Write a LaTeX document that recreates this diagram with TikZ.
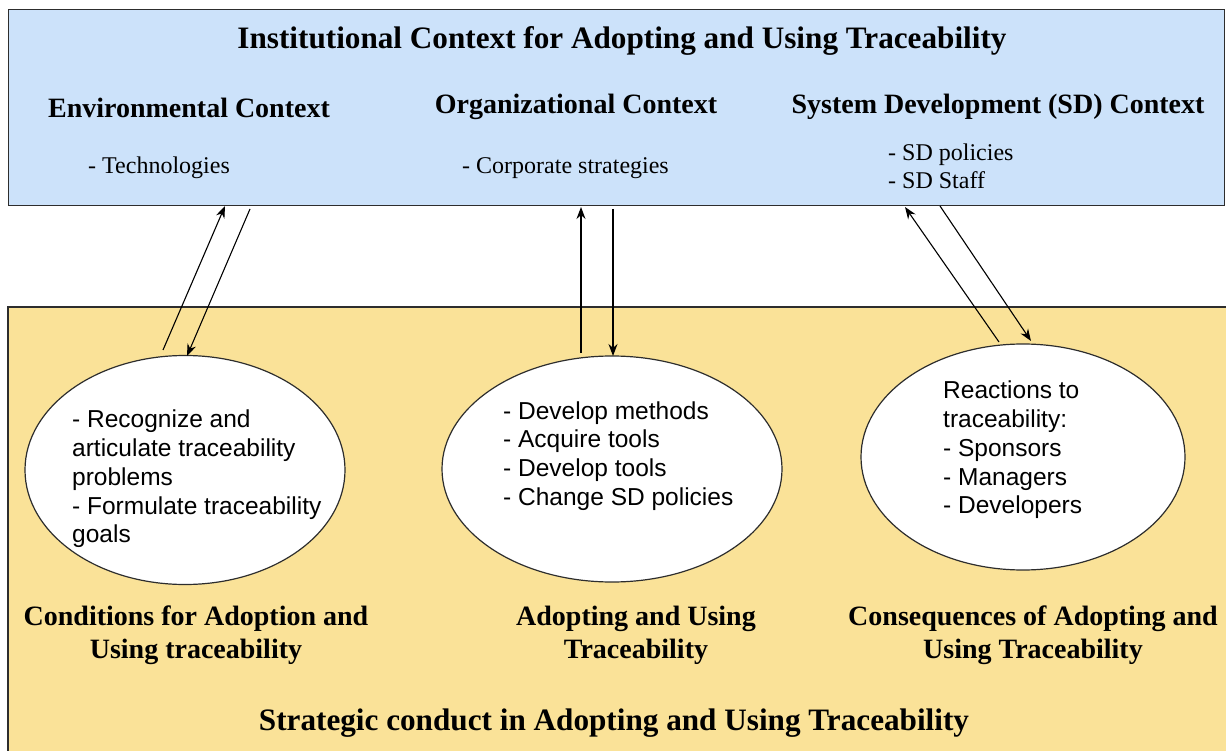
\documentclass[tikz,border=0pt]{standalone}
\usepackage{fontspec}
\setmainfont{Liberation Serif}
\setsansfont{Liberation Sans}
\usetikzlibrary{arrows.meta,shapes.geometric}
\definecolor{ctxblue}{RGB}{204,226,250}
\definecolor{conductyellow}{RGB}{250,226,152}
\definecolor{edge}{RGB}{45,45,45}
\tikzset{
  heading/.style={font=\bfseries\fontsize{28}{33}\selectfont, inner sep=0pt, align=center},
  bigheading/.style={font=\bfseries\fontsize{31.2}{36}\selectfont, inner sep=0pt, align=center},
  item/.style={font=\fontsize{24}{28}\selectfont, inner sep=0pt, align=left},
  bubble/.style={ellipse, draw=edge, line width=1.2pt, fill=white, inner sep=0pt},
  bubbletext/.style={font=\sffamily\fontsize{24.5}{28.8}\selectfont, inner sep=0pt, align=left, anchor=west},
  flow/.style={-{Stealth[length=12pt,width=9pt]}, line width=1.1pt, draw=black}
}
\begin{document}
\begin{tikzpicture}[x=1pt,y=-1pt]
\useasboundingbox (0,0) rectangle (1226,751);

% institutional context (top band)
\node[draw=edge, line width=1.4pt, fill=ctxblue, rectangle, minimum width=1216pt, minimum height=196pt, anchor=north west, inner sep=0pt] (inst) at (8,9) {};

% strategic conduct (bottom band, open to the right and below)
\fill[conductyellow] (8,307) rectangle (1226,751);
\draw[edge, line width=1.4pt] (8,751) -- (8,307) -- (1226,307);

% headings of the top band
\node[bigheading] (title) at (622,41) {Institutional Context for Adopting and Using Traceability};
\node[heading] (env) at (189,108) {Environmental Context};
\node[heading] (org) at (576,107) {Organizational Context};
\node[heading] (sdc) at (998,107) {System Development (SD) Context};
\node[item, anchor=west] (tech) at (88,168) {- Technologies};
\node[item, anchor=west] (corp) at (462,168) {- Corporate strategies};
\node[item, anchor=west] (sd) at (888,166) {- SD policies\\- SD Staff};

% the three ellipses
\node[bubble, minimum width=320pt, minimum height=229pt] (cond) at (185,470) {};
\node[bubble, minimum width=340pt, minimum height=226pt] (adopt) at (612,469) {};
\node[bubble, minimum width=324pt, minimum height=226pt] (cons) at (1023,457) {};

\node[bubbletext] (condtxt) at (72,479) {- Recognize and\\articulate traceability\\problems\\- Formulate traceability\\goals};
\node[bubbletext] (adopttxt) at (503,456) {- Develop methods\\- Acquire tools\\- Develop tools\\- Change SD policies};
\node[bubbletext] (constxt) at (943,450) {Reactions to\\traceability:\\- Sponsors\\- Managers\\- Developers};

% labels of the bottom band
\node[heading] (condlbl) at (196,635) {Conditions for Adoption and\\Using traceability};
\node[heading] (adoptlbl) at (636,635) {Adopting and Using\\Traceability};
\node[heading] (conslbl) at (1033,635) {Consequences of Adopting and\\Using Traceability};
\node[bigheading] (strat) at (614,723) {Strategic conduct in Adopting and Using Traceability};

% arrow end points
\coordinate (a1s) at (163,350);
\coordinate (a1e) at (225,206);
\coordinate (b1s) at (250,209);
\coordinate (b1e) at (187,356);
\coordinate (a2s) at (581,353);
\coordinate (a2e) at (581,207);
\coordinate (b2s) at (613,209);
\coordinate (b2e) at (613,356);
\coordinate (a3s) at (999,342);
\coordinate (a3e) at (905,207);
\coordinate (b3s) at (940,206);
\coordinate (b3e) at (1031,341);

\draw[flow] (a1s) -- (a1e);
\draw[flow] (b1s) -- (b1e);
\draw[flow] (a2s) -- (a2e);
\draw[flow] (b2s) -- (b2e);
\draw[flow] (a3s) -- (a3e);
\draw[flow] (b3s) -- (b3e);
\end{tikzpicture}
\end{document}
